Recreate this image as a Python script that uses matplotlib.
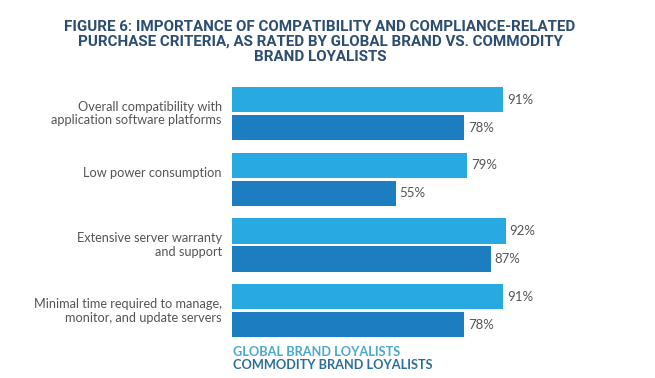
import numpy as np
from matplotlib import pyplot as plt

# data
categories = [
    "Overall compatibility with\napplication software platforms",
    "Low power consumption",
    "Extensive server warranty\nand support",
    "Minimal time required to manage,\nmonitor, and update servers",
]
global_brand = [91, 79, 92, 91]
commodity_brand = [78, 55, 87, 78]
series_names = ["GLOBAL BRAND LOYALISTS", "COMMODITY BRAND LOYALISTS"]

light = "#29a9e1"
dark = "#1c7ec1"
txt = "#555555"

fig = plt.figure(figsize=(6.55, 3.78), dpi=100)
fig.patch.set_facecolor("white")

ax = fig.add_axes([232 / 655, 1 - 345 / 378, 298 / 655, 265 / 378])
y = np.arange(len(categories))
off, h = 0.213, 0.385
ax.barh(y - off, global_brand, height=h, color=light)
ax.barh(y + off, commodity_brand, height=h, color=dark)
ax.set_xlim(0, 100)
ax.set_ylim(3.52, -0.51)
ax.axis("off")

for i in range(len(categories)):
    ax.text(global_brand[i] + 1.2, i - off, f"{global_brand[i]}%", va="center", ha="left",
            fontsize=9.5, color=txt, family="Lato")
    ax.text(commodity_brand[i] + 1.2, i + off, f"{commodity_brand[i]}%", va="center", ha="left",
            fontsize=9.5, color=txt, family="Lato")
    ypos = i - 0.1 if "\n" not in categories[i] else i
    ax.text(-3.4, ypos, categories[i], va="center", ha="right", fontsize=9.2,
            color=txt, family="Lato", linespacing=1.15)

# title
fig.text(320 / 655, 1 - 42 / 378,
         "FIGURE 6: IMPORTANCE OF COMPATIBILITY AND COMPLIANCE-RELATED\n"
         "PURCHASE CRITERIA, AS RATED BY GLOBAL BRAND VS. COMMODITY\n"
         "BRAND LOYALISTS",
         ha="center", va="center", fontsize=10.9, fontweight="bold", color="#2d4e70",
         family="Roboto", linespacing=1.06)

# legend as text
fig.text(233 / 655, 1 - 352 / 378, series_names[0], ha="left", va="center",
         fontsize=9.2, fontweight="bold", color="#4aa8d0", family="Lato")
fig.text(233 / 655, 1 - 365 / 378, series_names[1], ha="left", va="center",
         fontsize=9.2, fontweight="bold", color="#2b6f98", family="Lato")

fig.savefig("out.png", dpi=100, facecolor="white")
